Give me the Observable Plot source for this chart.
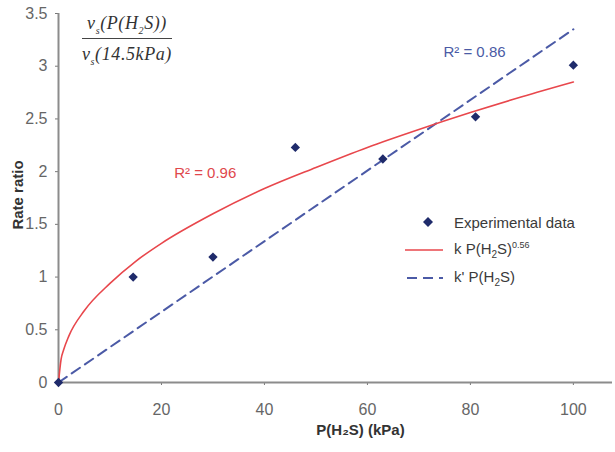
<!DOCTYPE html>
<html>
<head>
<meta charset="utf-8">
<script src="https://cdn.jsdelivr.net/npm/d3@7"></script>
<script src="https://cdn.jsdelivr.net/npm/@observablehq/plot@0.6"></script>
<style>
  html, body { margin: 0; padding: 0; background: white; }
  #wrap { position: relative; width: 615px; height: 452px; font-family: "Liberation Sans", Arial, sans-serif; }
  .frac { position: absolute; left: 82px; top: 13px; font-family: "Liberation Serif", "Times New Roman", serif; font-style: italic; font-size: 18px; line-height: 20px; letter-spacing: 0.6px; color: #333; text-align: center; }
  .frac .num { padding: 0 3px 5px 3px; border-bottom: 1.3px solid #444; }
  .frac .den { padding-top: 5px; }
  .frac sub { font-size: 10px; line-height: 0; }
  .legend { position: absolute; left: 404px; top: 208px; font-size: 15px; color: #3a3a3a; }
  .legend .row { display: flex; align-items: center; height: 28px; }
  .legend svg { width: 44px; height: 14px; margin-right: 6px; flex: none; }
  .legend sup { font-size: 9px; vertical-align: super; }
  .legend sub { font-size: 10px; vertical-align: sub; }
</style>
</head>
<body>
<div id="wrap"></div>
<script>
// ---- data ----
const xTicks = [0, 20, 40, 60, 80, 100];
const yTicks = [0, 0.5, 1, 1.5, 2, 2.5, 3, 3.5];

// Experimental data
const pressure = [0, 14.5, 30, 46, 63, 81, 100];
const rateRatio = [0, 1.0, 1.19, 2.23, 2.12, 2.52, 3.01];

// Power-law fit curve
const fitP = [0, 0.5, 1, 2, 5, 10, 15, 20, 30, 40, 50, 60, 70, 80, 90, 100];
const fitPower = [0, 0.22, 0.31, 0.44, 0.68, 0.94, 1.15, 1.32, 1.60, 1.84, 2.04, 2.23, 2.40, 2.56, 2.71, 2.85];

// Linear fit (dashed blue line)
const linP = [0, 100];
const linRatio = [0, 3.35];

// R² annotations
const r2Labels = ["R\u00B2 = 0.96", "R\u00B2 = 0.86"];
const r2X = [28.5, 80.8];
const r2Y = [1.99, 3.13];
const r2Colors = ["#e0474c", "#4a5ba5"];

// ---- build tables ----
const points = pressure.map((p, i) => ({p, r: rateRatio[i]}));
const power = fitP.map((p, i) => ({p, r: fitPower[i]}));
const linear = linP.map((p, i) => ({p, r: linRatio[i]}));
const r2 = r2Labels.map((t, i) => ({t, x: r2X[i], y: r2Y[i], c: r2Colors[i]}));

const axisGray = "#8c8c8c";
const navy = "#1f2b6b";
const red = "#e8474c";
const blue = "#4b5aa6";

const chart = Plot.plot({
  width: 615,
  height: 452,
  marginLeft: 58,
  marginRight: 3,
  marginTop: 13,
  marginBottom: 70,
  x: {domain: [0, 107.6]},
  y: {domain: [0, 3.5]},
  style: {fontFamily: "Liberation Sans, Arial, sans-serif", fontSize: "16px", color: "#666", background: "white"},
  marks: [
    Plot.axisX({ticks: xTicks, label: null, tickSize: 3, tickPadding: 18, stroke: "#777", fontSize: 16, tickFormat: d => String(d)}),
    Plot.axisY({ticks: yTicks, label: null, tickSize: 3, tickPadding: 8, stroke: "#777", fontSize: 16, tickFormat: d => String(d)}),
    Plot.ruleY([0], {stroke: axisGray, strokeWidth: 2}),
    Plot.ruleX([0], {stroke: axisGray, strokeWidth: 2}),
    Plot.line(linear, {x: "p", y: "r", stroke: blue, strokeWidth: 2, strokeDasharray: "10,6"}),
    Plot.line(power, {x: "p", y: "r", stroke: red, strokeWidth: 1.6, curve: "monotone-x"}),
    Plot.dot(points, {x: "p", y: "r", symbol: "diamond2", r: 4.2, fill: navy, stroke: "none"}),
    Plot.text(r2, {x: "x", y: "y", text: "t", fill: "c", fontSize: 15, fontWeight: 500}),
    Plot.text(["Rate ratio"], {frameAnchor: "left", textAnchor: "middle", text: d => d, rotate: -90, dx: -40, dy: -3, fontSize: 15, fontWeight: "bold", fill: "#333"}),
    Plot.text(["P(H\u2082S) (kPa)"], {frameAnchor: "bottom", text: d => d, dx: 25, dy: 52, fontSize: 15, fontWeight: "bold", fill: "#333"})
  ]
});

const wrap = document.getElementById("wrap");
wrap.appendChild(chart);

const frac = document.createElement("div");
frac.className = "frac";
frac.innerHTML = '<div class="num">v<sub>s</sub>(P(H<sub>2</sub>S))</div><div class="den">v<sub>s</sub>(14.5kPa)</div>';
wrap.appendChild(frac);

const legend = document.createElement("div");
legend.className = "legend";
legend.innerHTML =
  `<div class="row"><svg viewBox="0 0 44 14"><path d="M19 7 L24 2 L29 7 L24 12 Z" fill="${navy}"/></svg><span>Experimental data</span></div>` +
  `<div class="row"><svg viewBox="0 0 44 14"><line x1="1" y1="7" x2="39" y2="7" stroke="${red}" stroke-width="1.6"/></svg><span>k P(H<sub>2</sub>S)<sup>0.56</sup></span></div>` +
  `<div class="row"><svg viewBox="0 0 44 14"><line x1="3" y1="7" x2="39" y2="7" stroke="${blue}" stroke-width="2" stroke-dasharray="10,6"/></svg><span>k' P(H<sub>2</sub>S)</span></div>`;
wrap.appendChild(legend);
</script>
</body>
</html>
